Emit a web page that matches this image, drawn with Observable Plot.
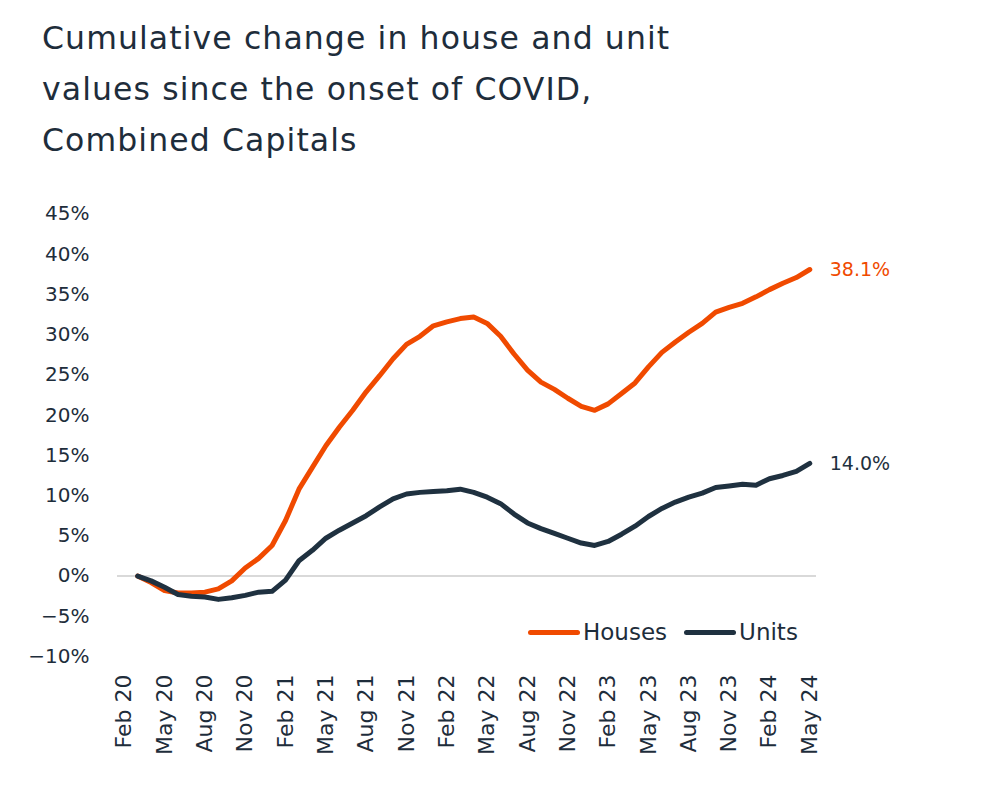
<!DOCTYPE html>
<html>
<head>
<meta charset="utf-8">
<script src="https://cdn.jsdelivr.net/npm/d3@7"></script>
<script src="https://cdn.jsdelivr.net/npm/@observablehq/plot@0.6"></script>
<style>
  html, body { margin: 0; padding: 0; background: #fff; }
  body { width: 998px; height: 810px; position: relative; overflow: hidden; font-family: "DejaVu Sans", Inter, sans-serif; color: #1e2d3b; }
  #title { position: absolute; left: 42px; top: 13px; font-size: 31.5px; letter-spacing: 1.1px; line-height: 51px; font-weight: 400; color: #1e2d3b; white-space: nowrap; }
  #chart { position: absolute; left: 0; top: 180px; }
  #legend { position: absolute; top: 619px; left: 528px; display: flex; align-items: center; font-size: 23px; color: #1e2d3b; }
  #legend .item { display: flex; align-items: center; margin-right: 17px; }
  #legend .sw { width: 52px; height: 5px; border-radius: 3px; margin-right: 3px; }
</style>
</head>
<body>
<div id="title">Cumulative change in house and unit<br>values since the onset of COVID,<br>Combined Capitals</div>
<div id="chart"></div>
<div id="legend"></div>
<script>
const months = ["Feb 20","Mar 20","Apr 20","May 20","Jun 20","Jul 20","Aug 20","Sep 20","Oct 20","Nov 20","Dec 20","Jan 21",
  "Feb 21","Mar 21","Apr 21","May 21","Jun 21","Jul 21","Aug 21","Sep 21","Oct 21","Nov 21","Dec 21","Jan 22",
  "Feb 22","Mar 22","Apr 22","May 22","Jun 22","Jul 22","Aug 22","Sep 22","Oct 22","Nov 22","Dec 22","Jan 23",
  "Feb 23","Mar 23","Apr 23","May 23","Jun 23","Jul 23","Aug 23","Sep 23","Oct 23","Nov 23","Dec 23","Jan 24",
  "Feb 24","Mar 24","Apr 24","May 24"];
// values start at Mar 20 (index 1)
const houses = [0,-0.8,-1.8,-2.1,-2.1,-2.0,-1.6,-0.6,1.0,2.2,3.8,6.9,10.8,13.5,16.2,18.5,20.6,22.9,24.9,27.0,28.8,29.8,31.1,31.6,32.0,32.2,31.4,29.8,27.6,25.6,24.1,23.2,22.1,21.1,20.6,21.4,22.7,24.0,26.0,27.8,29.1,30.3,31.4,32.8,33.4,33.9,34.7,35.6,36.4,37.1,38.1];
const units = [0,-0.6,-1.4,-2.3,-2.5,-2.6,-2.9,-2.7,-2.4,-2.0,-1.9,-0.5,1.9,3.2,4.7,5.7,6.6,7.5,8.6,9.6,10.2,10.4,10.5,10.6,10.8,10.4,9.8,9.0,7.7,6.6,5.9,5.3,4.7,4.1,3.8,4.3,5.2,6.2,7.4,8.4,9.2,9.8,10.3,11.0,11.2,11.4,11.3,12.1,12.5,13.0,14.0];
const seriesNames = ["Houses","Units"];
const seriesColors = ["#f04a00","#1f3140"];
const yTicks = [-10,-5,0,5,10,15,20,25,30,35,40,45];
const xTicks = d3.range(0, months.length, 3);

const rows = [];
houses.forEach((v, k) => rows.push({i: k + 1, v, s: "Houses"}));
units.forEach((v, k) => rows.push({i: k + 1, v, s: "Units"}));
const lastRows = seriesNames.map(s => rows.filter(r => r.s === s).at(-1));

const fmtPct = d => (d < 0 ? "\u2212" : "") + Math.abs(d) + "%";

const chart = Plot.plot({
  width: 998,
  height: 630,
  marginLeft: 117,
  marginRight: 182,
  marginTop: 33.5,
  marginBottom: 154,
  style: {fontFamily: "'DejaVu Sans', Inter, sans-serif", fontSize: "20px", color: "#1e2d3b", background: "transparent"},
  x: {domain: [-0.5, months.length - 0.5], label: null},
  y: {domain: [-10, 45], label: null},
  color: {domain: seriesNames, range: seriesColors},
  marks: [
    Plot.ruleY([0], {stroke: "#d9d9d9", strokeWidth: 2}),
    Plot.axisX({ticks: xTicks, tickFormat: i => months[i], tickRotate: -90, tickSize: 0, tickPadding: 18, fontSize: 22, label: null}),
    Plot.axisY({ticks: yTicks, tickFormat: fmtPct, tickSize: 0, tickPadding: 28, fontSize: 20, label: null}),
    Plot.line(rows, {x: "i", y: "v", z: "s", stroke: "s", strokeWidth: 5, strokeLinecap: "round", strokeLinejoin: "round"}),
    Plot.text(lastRows, {x: "i", y: "v", text: d => d.v.toFixed(1) + "%", fill: "s", dx: 20, textAnchor: "start", fontSize: 19})
  ]
});
document.getElementById("chart").appendChild(chart);

const legend = document.getElementById("legend");
seriesNames.forEach((s, k) => {
  const item = document.createElement("div");
  item.className = "item";
  const sw = document.createElement("div");
  sw.className = "sw";
  sw.style.background = seriesColors[k];
  const lab = document.createElement("span");
  lab.textContent = s;
  item.appendChild(sw); item.appendChild(lab);
  legend.appendChild(item);
});
</script>
</body>
</html>
